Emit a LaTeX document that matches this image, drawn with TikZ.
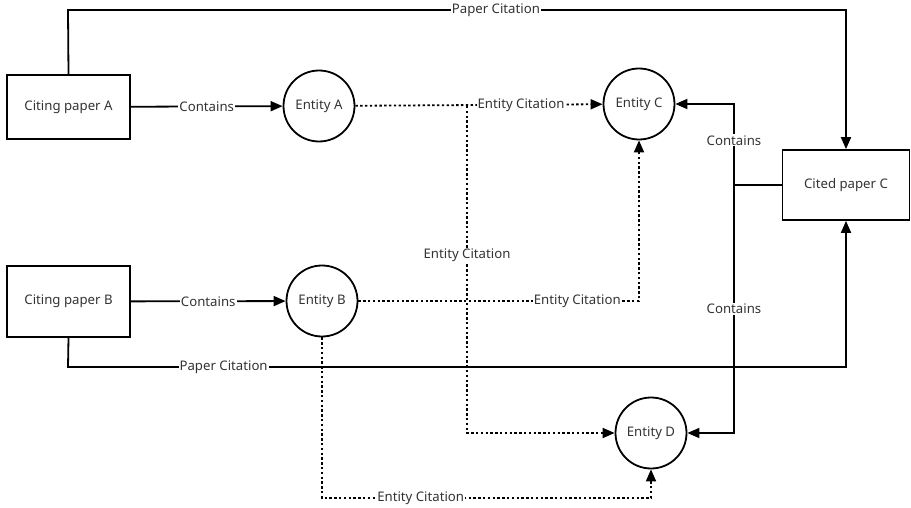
\documentclass[tikz,border=0pt]{standalone}
\usepackage{fontspec}
\setmainfont{Noto Sans}
\usetikzlibrary{arrows.meta}
\definecolor{txt}{HTML}{333333}
\begin{document}
\begin{tikzpicture}[x=1pt,y=-1pt,
  font=\fontsize{13.2}{15}\selectfont,
  every node/.style={text=txt},
  paperbox/.style={draw=black,line width=1.8pt,rectangle,inner sep=0pt},
  entity/.style={draw=black,line width=1.8pt,circle,minimum size=71pt,inner sep=0pt},
  conn/.style={draw=black,line width=1.8pt},
  arr/.style={conn,-{Triangle[length=12pt,width=10pt]}},
  dotarr/.style={arr,dash pattern=on 2.4pt off 2.4pt},
  lbl/.style={fill=white,inner sep=1pt}]
\useasboundingbox (0,0) rectangle (911,508);
\node[paperbox,minimum width=123pt,minimum height=64pt] (pa) at (68.5,107) {Citing paper A};
\node[paperbox,minimum width=123pt,minimum height=71pt] (pb) at (68.5,301.5) {Citing paper B};
\node[paperbox,minimum width=127pt,minimum height=70pt] (pc) at (846,185) {Cited paper C};
\node[entity] (ea) at (319,106) {Entity A};
\node[entity] (eb) at (322,301) {Entity B};
\node[entity] (ec) at (639,104) {Entity C};
\node[entity] (ed) at (651,433) {Entity D};
\coordinate (ptop) at (68,10);
\coordinate (pbot) at (68,367);
\coordinate (br) at (467,106);
\coordinate (bb) at (322,498);
\coordinate (j) at (734,185);
% contains
\draw[arr] (pa) -- node[lbl]{Contains} (ea);
\draw[arr] (pb) -- node[lbl]{Contains} (eb);
% paper citations
\draw[arr] (pa.north) -- (ptop) -| node[lbl,pos=0.275]{Paper Citation} (pc.north);
\draw[arr] (pb.south) -- (pbot) -| node[lbl,pos=0.1]{Paper Citation} (pc.south);
% entity citations
\draw[dotarr] (ea) -- node[lbl,pos=0.67]{Entity Citation} (ec);
\draw[dotarr] (br) |- node[lbl,pos=0.228]{Entity Citation} (ed);
\draw[dotarr] (eb) -| node[lbl,pos=0.39]{Entity Citation} (ec);
\draw[dotarr] (eb) -- (bb) -| node[lbl,pos=0.15]{Entity Citation} (ed);
% cited paper contains
\draw[conn] (pc.west) -- (j);
\draw[arr] (j) |- node[lbl,pos=0.276]{Contains} (ec);
\draw[arr] (j) |- node[lbl,pos=0.25]{Contains} (ed);
\end{tikzpicture}
\end{document}
